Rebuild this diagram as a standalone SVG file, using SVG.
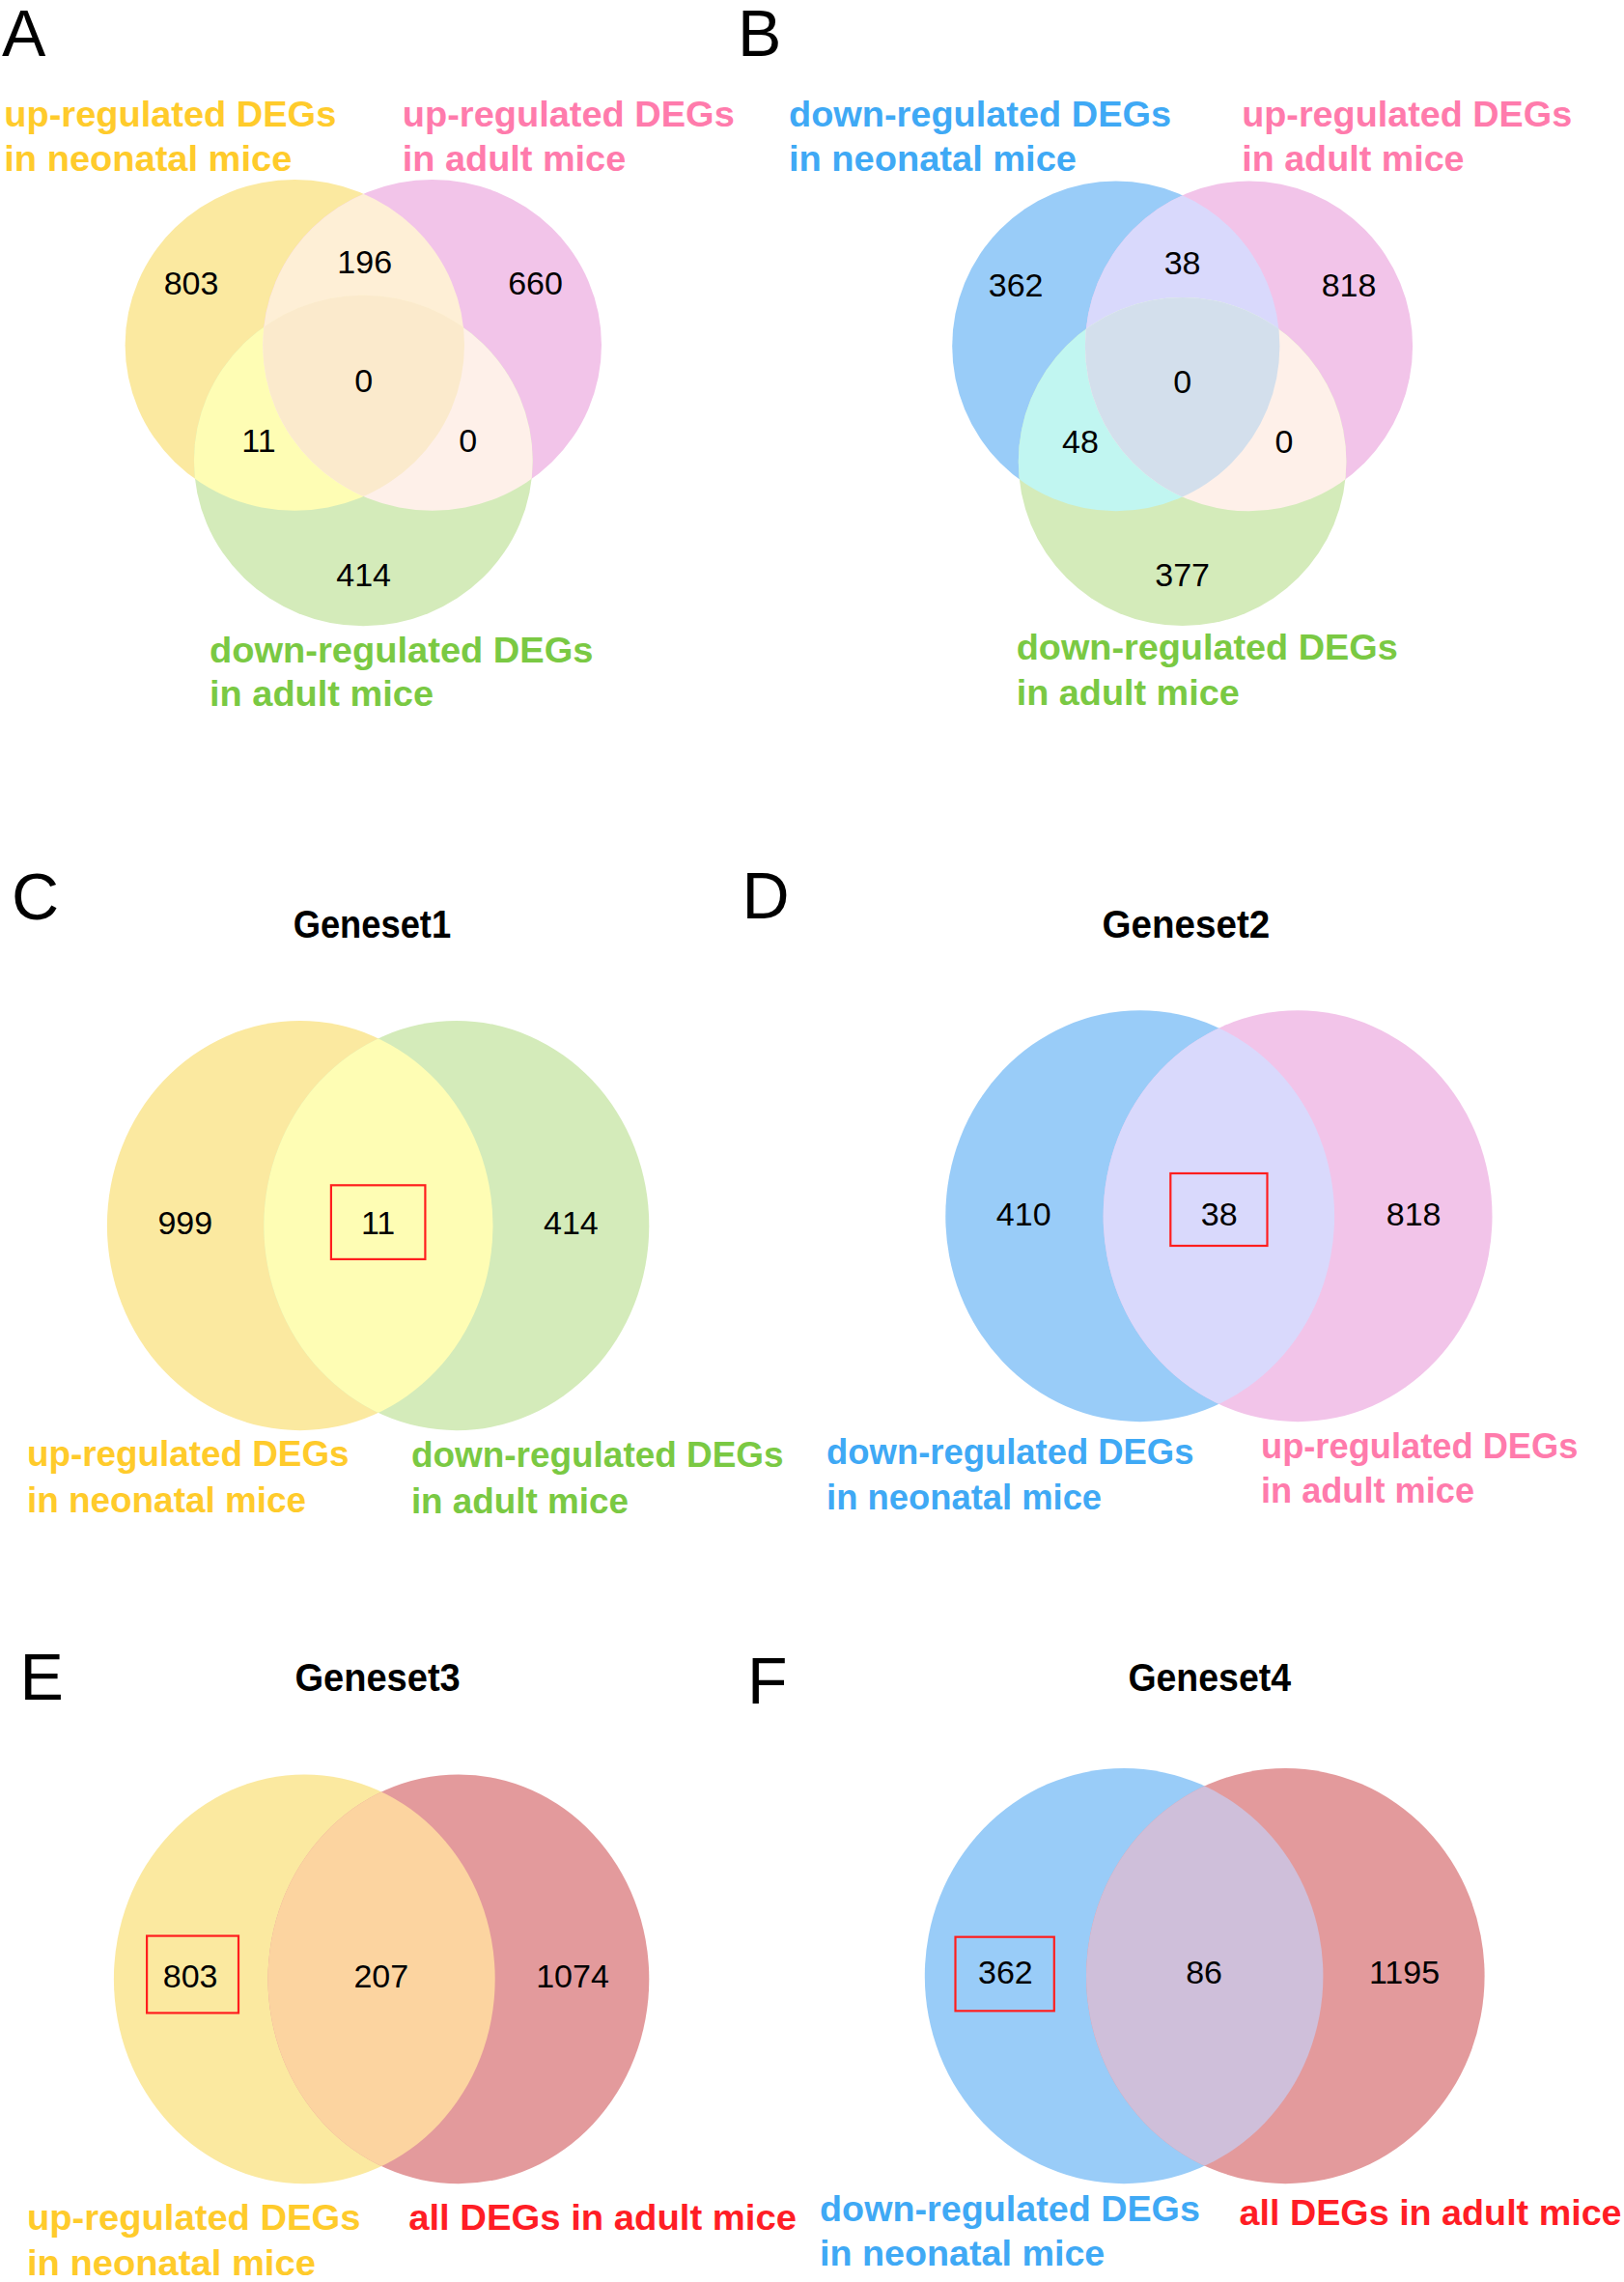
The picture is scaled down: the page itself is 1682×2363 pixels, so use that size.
<svg xmlns="http://www.w3.org/2000/svg" width="1682" height="2363" viewBox="0 0 1682 2363">
<style>
text{font-family:"Liberation Sans",Arial,sans-serif}
.pl{font-size:68px;fill:#000}
.num{font-size:34px;fill:#000;text-anchor:middle}
.lbl{font-size:37px;font-weight:bold}
.ttl{font-size:40px;font-weight:bold;fill:#000}
.box{fill:none;stroke:#FF1E1E;stroke-width:2.2}
.cy{fill:#FFCB2B}.cp{fill:#FF7BAC}.cg{fill:#7AC943}.cb{fill:#3FA9F5}.cr{fill:#FF1D25}
</style>
<defs>
<clipPath id="aY"><ellipse cx="305.3" cy="357.3" rx="175.7" ry="171.4"/></clipPath>
<clipPath id="aP"><ellipse cx="447.6" cy="357.3" rx="175.4" ry="171.4"/></clipPath>
<clipPath id="bB"><ellipse cx="1155.8" cy="358.4" rx="169.6" ry="170.9"/></clipPath>
<clipPath id="bP"><ellipse cx="1293.5" cy="358.4" rx="169.6" ry="170.9"/></clipPath>
<clipPath id="cY"><ellipse cx="310.7" cy="1269.1" rx="199.8" ry="212.1"/></clipPath>
<clipPath id="dB"><ellipse cx="1180.7" cy="1259.2" rx="201.4" ry="213"/></clipPath>
<clipPath id="eY"><ellipse cx="315.3" cy="2049.3" rx="197.4" ry="211.9"/></clipPath>
<clipPath id="fB"><ellipse cx="1164.1" cy="2046.1" rx="206.3" ry="215.1"/></clipPath>
</defs>
<rect width="1682" height="2363" fill="#fff"/>
<g id="connectors"/>

<!-- Panel A -->
<g id="panelA">
<text class="pl" x="2" y="58">A</text>
<g id="A-up-neonatal">
<ellipse cx="305.3" cy="357.3" rx="175.7" ry="171.4" fill="#FBE9A0"/>
<text class="lbl cy" x="4.3" y="131.2" textLength="344" lengthAdjust="spacingAndGlyphs">up-regulated DEGs</text>
<text class="lbl cy" x="4.3" y="176.8" textLength="298" lengthAdjust="spacingAndGlyphs">in neonatal mice</text>
</g>
<g id="A-up-adult">
<ellipse cx="447.6" cy="357.3" rx="175.4" ry="171.4" fill="#F2C4E9"/>
<text class="lbl cp" x="416.8" y="131.2" textLength="344" lengthAdjust="spacingAndGlyphs">up-regulated DEGs</text>
<text class="lbl cp" x="416.8" y="176.8" textLength="231.4" lengthAdjust="spacingAndGlyphs">in adult mice</text>
</g>
<g id="A-down-adult">
<ellipse cx="376.3" cy="477" rx="175.4" ry="171.2" fill="#D4EBBA"/>
<text class="lbl cg" x="217" y="685.7" textLength="397.5" lengthAdjust="spacingAndGlyphs">down-regulated DEGs</text>
<text class="lbl cg" x="217" y="731.2" textLength="232" lengthAdjust="spacingAndGlyphs">in adult mice</text>
</g>
<g id="A-overlaps">
<ellipse cx="447.6" cy="357.3" rx="175.4" ry="171.4" fill="#FEEFD6" clip-path="url(#aY)"/>
<ellipse cx="376.3" cy="477" rx="175.4" ry="171.2" fill="#FEFDB4" clip-path="url(#aY)"/>
<ellipse cx="376.3" cy="477" rx="175.4" ry="171.2" fill="#FEF0E9" clip-path="url(#aP)"/>
<g clip-path="url(#aP)"><ellipse cx="376.3" cy="477" rx="175.4" ry="171.2" fill="#FBEACC" clip-path="url(#aY)"/></g>
</g>
<g id="A-counts">
<text class="num" x="198" y="305">803</text>
<text class="num" x="377.7" y="283">196</text>
<text class="num" x="554.5" y="305">660</text>
<text class="num" x="376.6" y="405.5">0</text>
<text class="num" x="267.9" y="467.7">11</text>
<text class="num" x="484.8" y="467.7">0</text>
<text class="num" x="376.6" y="607">414</text>
</g>
</g>

<!-- Panel B -->
<g id="panelB">
<text class="pl" x="764" y="58">B</text>
<g id="B-down-neonatal">
<ellipse cx="1155.8" cy="358.4" rx="169.6" ry="170.9" fill="#99CCF8"/>
<text class="lbl cb" x="817" y="131.2" textLength="396" lengthAdjust="spacingAndGlyphs">down-regulated DEGs</text>
<text class="lbl cb" x="817" y="176.8" textLength="298" lengthAdjust="spacingAndGlyphs">in neonatal mice</text>
</g>
<g id="B-up-adult">
<ellipse cx="1293.5" cy="358.4" rx="169.6" ry="170.9" fill="#F2C4E9"/>
<text class="lbl cp" x="1286.2" y="131.2" textLength="342" lengthAdjust="spacingAndGlyphs">up-regulated DEGs</text>
<text class="lbl cp" x="1286.2" y="176.8" textLength="230.4" lengthAdjust="spacingAndGlyphs">in adult mice</text>
</g>
<g id="B-down-adult">
<ellipse cx="1224.6" cy="478.1" rx="169.8" ry="170" fill="#D4EBBA"/>
<text class="lbl cg" x="1052.7" y="683" textLength="395" lengthAdjust="spacingAndGlyphs">down-regulated DEGs</text>
<text class="lbl cg" x="1052.7" y="729.6" textLength="231" lengthAdjust="spacingAndGlyphs">in adult mice</text>
</g>
<g id="B-overlaps">
<ellipse cx="1293.5" cy="358.4" rx="169.6" ry="170.9" fill="#D9D9FC" clip-path="url(#bB)"/>
<ellipse cx="1224.6" cy="478.1" rx="169.8" ry="170" fill="#C1F6F1" clip-path="url(#bB)"/>
<ellipse cx="1224.6" cy="478.1" rx="169.8" ry="170" fill="#FEF0E9" clip-path="url(#bP)"/>
<g clip-path="url(#bP)"><ellipse cx="1224.6" cy="478.1" rx="169.8" ry="170" fill="#D3DFEC" clip-path="url(#bB)"/></g>
</g>
<g id="B-counts">
<text class="num" x="1052.1" y="307">362</text>
<text class="num" x="1224.6" y="284">38</text>
<text class="num" x="1397" y="307">818</text>
<text class="num" x="1224.6" y="407">0</text>
<text class="num" x="1119" y="468.7">48</text>
<text class="num" x="1330" y="468.7">0</text>
<text class="num" x="1224.6" y="607">377</text>
</g>
</g>

<!-- Panel C -->
<g id="panelC">
<text class="pl" x="12" y="952">C</text>
<text class="ttl" x="303.7" y="971.2" textLength="163.4" lengthAdjust="spacingAndGlyphs">Geneset1</text>
<g id="C-up-neonatal">
<ellipse cx="310.7" cy="1269.1" rx="199.8" ry="212.1" fill="#FBE9A0"/>
<text class="lbl cy" x="27.9" y="1517.7" textLength="333.7" lengthAdjust="spacingAndGlyphs">up-regulated DEGs</text>
<text class="lbl cy" x="27.9" y="1565.9" textLength="289.2" lengthAdjust="spacingAndGlyphs">in neonatal mice</text>
</g>
<g id="C-down-adult">
<ellipse cx="472.8" cy="1269.1" rx="199.5" ry="212.1" fill="#D4EBBA"/>
<text class="lbl cg" x="425.9" y="1519.3" textLength="385.7" lengthAdjust="spacingAndGlyphs">down-regulated DEGs</text>
<text class="lbl cg" x="425.9" y="1567" textLength="225" lengthAdjust="spacingAndGlyphs">in adult mice</text>
</g>
<ellipse cx="472.8" cy="1269.1" rx="199.5" ry="212.1" fill="#FEFDB4" clip-path="url(#cY)"/>
<g id="C-counts">
<text class="num" x="191.8" y="1278.2">999</text>
<text class="num" x="391.6" y="1278.2">11</text>
<text class="num" x="591.4" y="1278.2">414</text>
<rect class="box" x="342.9" y="1227.3" width="97.5" height="76.6"/>
</g>
</g>

<!-- Panel D -->
<g id="panelD">
<text class="pl" x="768.6" y="951">D</text>
<text class="ttl" x="1141.6" y="971.2" textLength="173.6" lengthAdjust="spacingAndGlyphs">Geneset2</text>
<g id="D-down-neonatal">
<ellipse cx="1180.7" cy="1259.2" rx="201.4" ry="213" fill="#99CCF8"/>
<text class="lbl cb" x="856.1" y="1516" textLength="380.3" lengthAdjust="spacingAndGlyphs">down-regulated DEGs</text>
<text class="lbl cb" x="856.1" y="1563.2" textLength="285" lengthAdjust="spacingAndGlyphs">in neonatal mice</text>
</g>
<g id="D-up-adult">
<ellipse cx="1344.1" cy="1259.2" rx="201.4" ry="213" fill="#F2C4E9"/>
<text class="lbl cp" x="1306" y="1509.6" textLength="328.4" lengthAdjust="spacingAndGlyphs">up-regulated DEGs</text>
<text class="lbl cp" x="1306" y="1556.2" textLength="221" lengthAdjust="spacingAndGlyphs">in adult mice</text>
</g>
<ellipse cx="1344.1" cy="1259.2" rx="201.4" ry="213" fill="#D9D9FC" clip-path="url(#dB)"/>
<g id="D-counts">
<text class="num" x="1060.2" y="1268.6">410</text>
<text class="num" x="1262.7" y="1268.6">38</text>
<text class="num" x="1464.1" y="1268.6">818</text>
<rect class="box" x="1212.3" y="1215" width="100.2" height="75"/>
</g>
</g>

<!-- Panel E -->
<g id="panelE">
<text class="pl" x="20.5" y="1759.8">E</text>
<text class="ttl" x="305.4" y="1750.7" textLength="171.4" lengthAdjust="spacingAndGlyphs">Geneset3</text>
<g id="E-up-neonatal">
<ellipse cx="315.3" cy="2049.3" rx="197.4" ry="211.9" fill="#FBE9A0"/>
<text class="lbl cy" x="27.9" y="2309.4" textLength="345.5" lengthAdjust="spacingAndGlyphs">up-regulated DEGs</text>
<text class="lbl cy" x="27.9" y="2356" textLength="299" lengthAdjust="spacingAndGlyphs">in neonatal mice</text>
</g>
<g id="E-all-adult">
<ellipse cx="474.9" cy="2049.3" rx="197.4" ry="211.9" fill="#E39A9C"/>
<text class="lbl cr" x="423.2" y="2309.4" textLength="401.8" lengthAdjust="spacingAndGlyphs">all DEGs in adult mice</text>
</g>
<ellipse cx="474.9" cy="2049.3" rx="197.4" ry="211.9" fill="#FCD4A0" clip-path="url(#eY)"/>
<g id="E-counts">
<text class="num" x="197.1" y="2057.6">803</text>
<text class="num" x="394.8" y="2057.6">207</text>
<text class="num" x="593" y="2057.6">1074</text>
<rect class="box" x="152.1" y="2004.6" width="94.9" height="79.8"/>
</g>
</g>

<!-- Panel F -->
<g id="panelF">
<text class="pl" x="774" y="1764">F</text>
<text class="ttl" x="1168.4" y="1750.7" textLength="168.7" lengthAdjust="spacingAndGlyphs">Geneset4</text>
<g id="F-down-neonatal">
<ellipse cx="1164.1" cy="2046.1" rx="206.3" ry="215.1" fill="#99CCF8"/>
<text class="lbl cb" x="849.1" y="2299.8" textLength="393.8" lengthAdjust="spacingAndGlyphs">down-regulated DEGs</text>
<text class="lbl cb" x="849.1" y="2346.4" textLength="295.2" lengthAdjust="spacingAndGlyphs">in neonatal mice</text>
</g>
<g id="F-all-adult">
<ellipse cx="1331.3" cy="2046.1" rx="206.3" ry="215.1" fill="#E39A9C"/>
<text class="lbl cr" x="1283.6" y="2303.5" textLength="396" lengthAdjust="spacingAndGlyphs">all DEGs in adult mice</text>
</g>
<ellipse cx="1331.3" cy="2046.1" rx="206.3" ry="215.1" fill="#CFBFDA" clip-path="url(#fB)"/>
<g id="F-counts">
<text class="num" x="1041.4" y="2054.4">362</text>
<text class="num" x="1247.1" y="2054.4">86</text>
<text class="num" x="1454.5" y="2054.4">1195</text>
<rect class="box" x="989.5" y="2005.7" width="102.3" height="76.6"/>
</g>
</g>
</svg>
